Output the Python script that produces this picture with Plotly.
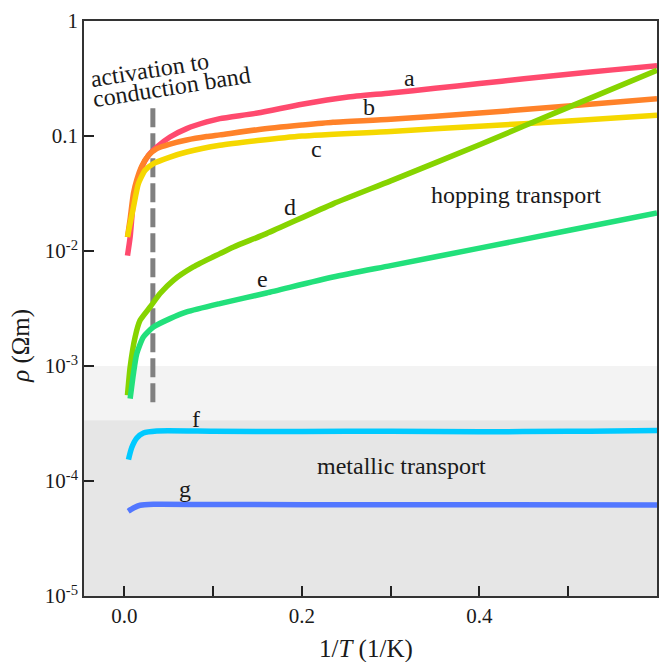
import plotly.graph_objects as go
import numpy as np

# ---------------- data ----------------
x_a = [0.0034, 0.0064, 0.0101, 0.0139, 0.0196, 0.027, 0.0364, 0.0513, 0.0701, 0.0926, 0.1075,
       0.15, 0.2, 0.25, 0.3, 0.35, 0.4, 0.45, 0.5, 0.55, 0.6]
rho_a = [0.00912, 0.01324, 0.02754, 0.03855, 0.0537, 0.0679, 0.0802, 0.0980, 0.1159, 0.1324, 0.1416,
         0.1585, 0.1888, 0.2173, 0.2366, 0.2600, 0.2858, 0.3141, 0.3443, 0.3758, 0.4074]

x_b = [0.0034, 0.0064, 0.0101, 0.0139, 0.0196, 0.027, 0.0364, 0.0513, 0.0701, 0.0926, 0.1075,
       0.15, 0.2, 0.235, 0.3, 0.4, 0.5, 0.6]
rho_b = [0.01318, 0.01905, 0.03162, 0.04169, 0.05495, 0.06761, 0.07762, 0.08511, 0.09226, 0.09886, 0.1023,
         0.1135, 0.1245, 0.1318, 0.1396, 0.1585, 0.1820, 0.2113]

x_c = [0.0034, 0.0064, 0.0101, 0.0157, 0.0233, 0.0326, 0.0513, 0.0701, 0.1075, 0.15, 0.2, 0.3, 0.4, 0.5, 0.6]
rho_c = [0.01324, 0.01738, 0.02399, 0.03855, 0.05035, 0.05754, 0.06561, 0.07261, 0.08299, 0.09120,
         0.1000, 0.1096, 0.1216, 0.1349, 0.1514]

x_d = [0.0034, 0.0064, 0.0120, 0.0176, 0.0289, 0.0401, 0.0551, 0.0775, 0.1075, 0.123, 0.16, 0.235,
       0.3, 0.4, 0.5, 0.6]
rho_d = [5.56e-4, 9.79e-4, 1.786e-3, 2.495e-3, 3.258e-3, 4.266e-3, 5.559e-3, 7.261e-3, 9.484e-3,
         0.01084, 0.01416, 0.02570, 0.04074, 0.08395, 0.1774, 0.3724]

x_e = [0.0064, 0.0101, 0.0139, 0.0213, 0.0326, 0.0513, 0.0701, 0.1075, 0.16, 0.235, 0.3, 0.4, 0.5, 0.6]
rho_e = [5.20e-4, 8.59e-4, 1.282e-3, 1.786e-3, 2.183e-3, 2.582e-3, 2.951e-3, 3.491e-3, 4.315e-3,
         5.943e-3, 7.464e-3, 0.01059, 0.01507, 0.02138]

x_f = [0.0045, 0.008, 0.0139, 0.0213, 0.0364, 0.1, 0.2, 0.3, 0.4, 0.5, 0.55, 0.6]
rho_f = [1.535e-4, 1.936e-4, 2.366e-4, 2.612e-4, 2.723e-4, 2.710e-4, 2.692e-4, 2.710e-4, 2.679e-4,
         2.704e-4, 2.716e-4, 2.742e-4]

x_g = [0.0042, 0.0101, 0.0176, 0.0326, 0.1, 0.3, 0.6]
rho_g = [5.458e-5, 5.821e-5, 6.152e-5, 6.266e-5, 6.237e-5, 6.223e-5, 6.194e-5]

# activation marker (vertical dashed line)
x_activation = [0.032, 0.032]
rho_activation = [0.174, 4.7e-4]

# transport regions (resistivity limits)
rho_metal_top = 3.37e-4
rho_mid_top = 1e-3
rho_bottom = 1e-5

x_tickvals = [0.0, 0.2, 0.4, 0.6]
x_ticktext = ["0.0", "0.2", "0.4", "0.6"]
x_minor_tickvals = [0.1, 0.3, 0.5]
y_tickvals = [1, 0.1, 0.01, 1e-3, 1e-4, 1e-5]
y_ticktext = ["1", "0.1", "10<sup>-2</sup>", "10<sup>-3</sup>", "10<sup>-4</sup>", "10<sup>-5</sup>"]

series = [
    ("a", x_a, rho_a, "#ff4a6e"),
    ("b", x_b, rho_b, "#ff8229"),
    ("c", x_c, rho_c, "#f5d800"),
    ("d", x_d, rho_d, "#86d400"),
    ("e", x_e, rho_e, "#22e07b"),
    ("f", x_f, rho_f, "#00caff"),
    ("g", x_g, rho_g, "#5277ff"),
]

FONT = "Liberation Serif"
TXT = "#1a1a1a"

fig = go.Figure()

fig.add_trace(go.Scatter(x=x_activation, y=rho_activation, mode="lines",
                         line=dict(color="#808080", width=5, dash="19px,6px"),
                         showlegend=False, hoverinfo="skip"))

for name, xs, ys, col in series:
    fig.add_trace(go.Scatter(x=xs, y=ys, mode="lines", name=name,
                             line=dict(color=col, width=5.5, shape="spline", smoothing=0.6),
                             showlegend=False))

# shaded regions
fig.add_shape(type="rect", xref="x domain", yref="y", x0=0, x1=1, y0=rho_metal_top, y1=rho_mid_top,
              fillcolor="#f3f3f3", line=dict(width=0), layer="below")
fig.add_shape(type="rect", xref="x domain", yref="y", x0=0, x1=1, y0=rho_bottom, y1=rho_metal_top,
              fillcolor="#e6e6e6", line=dict(width=0), layer="below")

labels = [("a", 0.321, -0.496), ("b", 0.276, -0.748), ("c", 0.216, -1.11), ("d", 0.187, -1.617),
          ("e", 0.156, -2.24), ("f", 0.081, -3.457), ("g", 0.068, -4.066),
          ("hopping transport", 0.4416, -1.516), ("metallic transport", 0.3126, -3.872)]
for t, xx, yy in labels:
    fig.add_annotation(x=xx, y=yy, xref="x", yref="y", text=t, showarrow=False,
                       font=dict(family=FONT, size=24, color=TXT))

fig.add_annotation(x=0.0278, y=-0.4226, xref="x", yref="y", text="activation to", showarrow=False,
                   textangle=-9, font=dict(family=FONT, size=24, color=TXT))
fig.add_annotation(x=0.053, y=-0.575, xref="x", yref="y", text="conduction band", showarrow=False,
                   textangle=-9, font=dict(family=FONT, size=24, color=TXT))

# axis titles
fig.add_annotation(x=-0.11, y=0.435, xref="paper", yref="paper", text="<i>ρ</i> (Ωm)",
                   showarrow=False, textangle=-90, xanchor="center", yanchor="middle",
                   font=dict(family=FONT, size=25, color=TXT))
fig.add_annotation(x=0.4917, y=-0.092, xref="paper", yref="paper", text="1/<i>T</i> (1/K)",
                   showarrow=False, xanchor="center", yanchor="middle",
                   font=dict(family=FONT, size=25, color=TXT))

tick_font = dict(family="Liberation Serif", size=21, color=TXT)
axis_common = dict(showgrid=False, zeroline=False, showline=True, mirror=True,
                   linecolor="#333333", linewidth=1.5, ticks="inside", ticklen=10,
                   tickwidth=1.5, tickcolor="#222222")

fig.update_xaxes(range=[-0.0456, 0.6], tickvals=x_tickvals, ticktext=x_ticktext,
                 tickfont=tick_font,
                 minor=dict(tickvals=x_minor_tickvals, ticks="inside", ticklen=10,
                            tickwidth=1.5, tickcolor="#222222", showgrid=False),
                 **axis_common)
fig.update_yaxes(type="log", range=[-5, 0], tickvals=y_tickvals, ticktext=y_ticktext,
                 tickfont=tick_font, **axis_common)

fig.update_layout(width=667, height=662, margin=dict(l=84, r=8, t=21, b=66),
                  plot_bgcolor="white", paper_bgcolor="white", showlegend=False,
                  font=dict(family=FONT, color=TXT))

fig.write_html("out.html", config={"displayModeBar": False},
               post_script="document.body.style.margin='0';document.body.style.overflow='hidden';")
